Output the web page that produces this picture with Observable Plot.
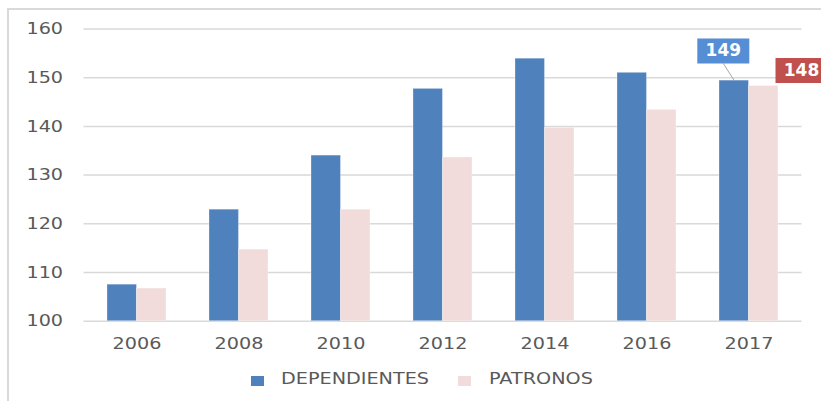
<!DOCTYPE html>
<html>
<head>
<meta charset="utf-8">
<script src="https://cdn.jsdelivr.net/npm/d3@7"></script>
<script src="https://cdn.jsdelivr.net/npm/@observablehq/plot@0.6"></script>
<style>
  html, body { margin: 0; padding: 0; background: #fff; overflow: hidden; width: 821px; height: 401px; }
  #wrap { position: relative; width: 821px; height: 401px; }
  #chart { position: absolute; left: 0; top: 0; }
  #frame { position: absolute; left: 7px; top: 8px; width: 2000px; height: 2000px;
           border-left: 2px solid #d9d9d9; border-top: 2px solid #d9d9d9; pointer-events: none; }
  .lg-sw { position: absolute; width: 13px; height: 10px; }
  .lg-tx { position: absolute; font-family: "DejaVu Sans"; font-size: 16px; line-height: 16px; color: #595959;
           transform: scaleX(1.2); transform-origin: left center; white-space: nowrap; }
</style>
</head>
<body>
<div id="wrap"><div id="chart"></div><div id="legend"></div><div id="frame"></div></div>
<script>
// ---- data ----
const years = ["2006", "2008", "2010", "2012", "2014", "2016", "2017"];
const dependientes = [107.5, 122.9, 134.0, 147.7, 153.9, 151.0, 149.4];
const patronos = [106.7, 114.7, 122.9, 133.6, 139.7, 143.4, 148.3];
const seriesNames = ["DEPENDIENTES", "PATRONOS"];
const seriesColors = ["#4f81bd", "#f2dcdb"];
const labelColors = ["#558ed5", "#c0504d"];
const yTicks = [100, 110, 120, 130, 140, 150, 160];
const labelYear = "2017";

// ---- layout ----
const W = 821, H = 360, ML = 83.5, MR = 19.5, MT = 28.5, MB = 39.3;
const padInner = 0.424;
const step = (W - ML - MR) / years.length;
const half = step * (1 - padInner) / 2;

const seriesValues = [dependientes, patronos];
const rowsBySeries = seriesNames.map((s, k) =>
  years.map((year, i) => ({year, series: s, value: seriesValues[k][i]})));

const last = years.indexOf(labelYear);
const labelRows = seriesNames.map((s, k) => ({year: labelYear, series: s, value: seriesValues[k][last]}));
const labelOffsets = [{dx: -25.7, dy: -29.6}, {dx: 52.5, dy: -15.5}];

const boxSymbol = {draw(ctx) { ctx.rect(-26, -12.5, 52, 25); }};
const leaderSymbol = {draw(ctx) { ctx.moveTo(0, 0); ctx.lineTo(-10.9, -17.1); }};

const marks = [
  Plot.gridY(yTicks, {stroke: "#d9d9d9", strokeOpacity: 1, strokeWidth: 1.5}),
  Plot.axisY(yTicks, {tickSize: 0, tickPadding: 24, label: null, fill: "#595959"}),
  Plot.axisX({tickSize: 0, tickPadding: 16, label: null, fill: "#595959"}),
  Plot.barY(rowsBySeries[0], {x: "year", y1: yTicks[0], y2: "value", fill: seriesColors[0],
    insetRight: half, stroke: "#ffffff", strokeOpacity: 0.3, strokeWidth: 1}),
  Plot.barY(rowsBySeries[1], {x: "year", y1: yTicks[0], y2: "value", fill: seriesColors[1],
    insetLeft: half, stroke: "#ffffff", strokeOpacity: 0.3, strokeWidth: 1}),
  Plot.dot([labelRows[0]], {x: "year", y: "value", dx: -half / 2, symbol: leaderSymbol, r: 5,
    stroke: "#a6a6a6", fill: "none", strokeWidth: 1})
];
labelRows.forEach((d, k) => {
  marks.push(Plot.dot([d], {x: "year", y: "value", dx: labelOffsets[k].dx, dy: labelOffsets[k].dy,
    symbol: boxSymbol, r: 5, fill: labelColors[k], stroke: "none"}));
  marks.push(Plot.text([d], {x: "year", y: "value", dx: labelOffsets[k].dx, dy: labelOffsets[k].dy,
    text: v => String(Math.round(v.value)), fill: "white", fontWeight: "bold", fontSize: 17,
    fontFamily: "DejaVu Sans"}));
});

const chart = Plot.plot({
  width: W, height: H,
  marginLeft: ML, marginRight: MR, marginTop: MT, marginBottom: MB,
  style: {fontFamily: "DejaVu Sans", fontSize: "16px", color: "#595959", background: "transparent", overflow: "hidden"},
  x: {type: "band", domain: years, paddingInner: padInner, paddingOuter: padInner / 2, axis: null},
  y: {domain: [yTicks[0], yTicks[yTicks.length - 1]], axis: null},
  marks
});
document.getElementById("chart").appendChild(chart);

// widen axis tick labels horizontally about their own centre (keeps Plot's placement)
chart.querySelectorAll('g[aria-label$="tick label"] text').forEach(t => {
  const b = t.getBBox();
  const cx = b.x + b.width / 2;
  const orig = t.getAttribute("transform") || "";
  t.setAttribute("transform", `${orig} translate(${cx} 0) scale(1.2 1) translate(${-cx} 0)`);
});

// ---- legend ----
const legend = document.getElementById("legend");
const legendPos = [{sw: 251, tx: 281}, {sw: 458, tx: 489}];
seriesNames.forEach((s, k) => {
  const sw = document.createElement("div");
  sw.className = "lg-sw";
  sw.style.left = legendPos[k].sw + "px";
  sw.style.top = "376px";
  sw.style.background = seriesColors[k];
  legend.appendChild(sw);
  const tx = document.createElement("div");
  tx.className = "lg-tx";
  tx.style.left = legendPos[k].tx + "px";
  tx.style.top = "371px";
  tx.textContent = s;
  legend.appendChild(tx);
});
</script>
</body>
</html>
